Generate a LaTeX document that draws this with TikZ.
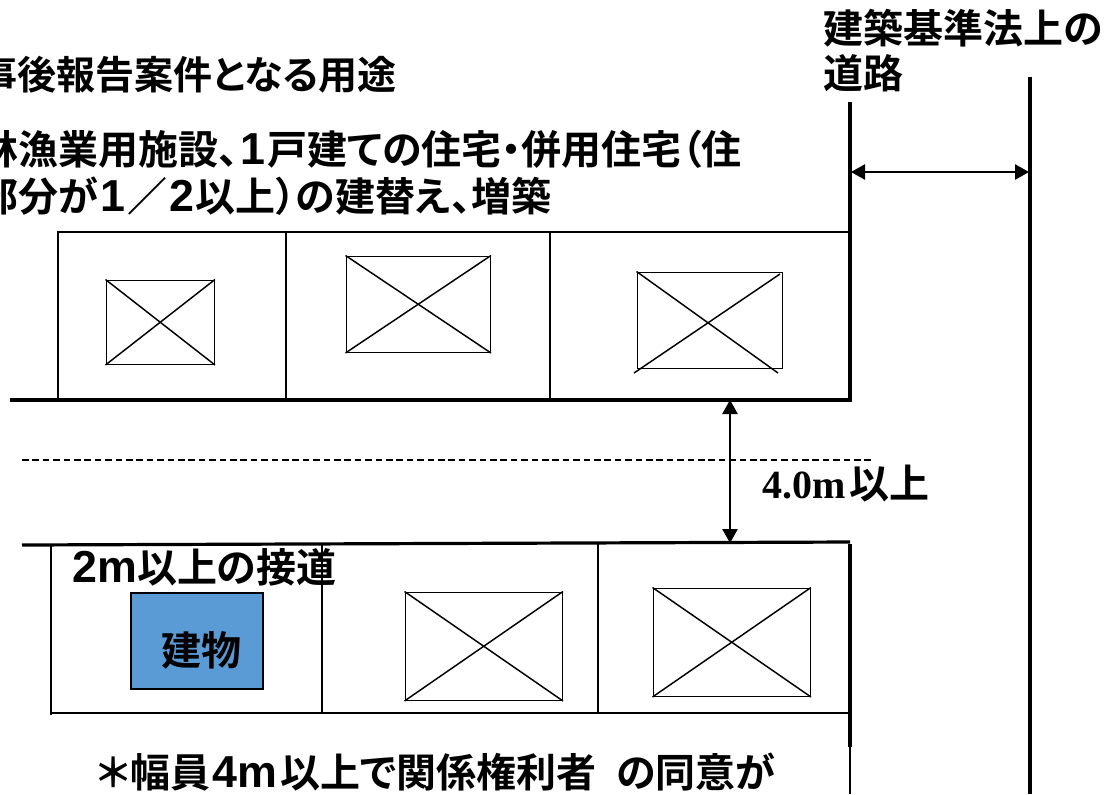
\documentclass[tikz,border=0pt]{standalone}
\usepackage{fontspec}
\setmainfont{Noto Sans CJK JP}[BoldFont={Noto Sans CJK JP Bold},RawFeature=+palt]
\newfontfamily\serifdigits{Liberation Serif}[BoldFont={Liberation Serif Bold}]
\newfontfamily\sansdigits{Liberation Sans}[BoldFont={Liberation Sans Bold},Scale=1.12]
\newcommand{\dg}[1]{{\sansdigits #1}}
\usetikzlibrary{arrows.meta}
\definecolor{roofblue}{HTML}{5B9BD5}
\tikzset{
  wall/.style={line width=2.4pt},
  lot/.style={line width=1.1pt},
  house/.style={draw, line width=1.1pt, inner sep=0pt, anchor=north west},
  span/.style={line width=1.1pt, {Triangle[length=10.5pt,width=11.5pt]}-{Triangle[length=10.5pt,width=11.5pt]}},
  label/.style={anchor=west, inner sep=0pt, font=\bfseries\fontsize{30}{30}\selectfont}
}
\begin{document}
\begin{tikzpicture}[x=0.75pt, y=-0.75pt]
    \useasboundingbox (0, 0) rectangle (1105, 794);

    % upper block
    \draw[lot] (58, 400) -- (58, 232) -- (850, 232);
    \foreach \x in {286, 550} {
      \draw[lot] (\x, 232) -- (\x, 400);
    }
    \coordinate (upperwall) at (10, 400);
    \coordinate (uppercorner) at (850, 400);
    \coordinate (uppertop) at (850, 102);
    \draw[wall] (upperwall) -- (uppercorner) -- (uppertop);

    % lower block
    \draw[lot] (51, 544) -- (51, 715);
    \draw[lot] (51, 713) -- (850, 713);
    \foreach \x in {322, 598} {
      \draw[lot] (\x, 544) -- (\x, 713);
    }
    \coordinate (lowerwall) at (22, 545);
    \coordinate (lowercorner) at (850, 542);
    \draw[wall] (lowerwall) -- (lowercorner);
    \draw[wall] (850, 544) -- (850, 747);
    \draw[lot] (850, 747) -- (850, 794);

    % far side of the road
    \coordinate (roadtop) at (1030, 77);
    \coordinate (roadend) at (1030, 794);
    \draw[wall] (roadtop) -- (roadend);

    % centre line
    \coordinate (dashfrom) at (22, 460);
    \coordinate (dashto) at (874, 460);
    \draw[line width=0.8pt, dash pattern=on 5pt off 2.8pt] (dashfrom) -- (dashto);

    % houses with a cross
    \foreach \name/\x/\y/\w/\h in {ha/105.5/279.5/108/84, hb/345.5/255.5/144/96, hc/636.5/271.5/145/96,
                                   hd/404.5/591.5/157/108, he/652.5/587.5/157/108} {
      \node[house, minimum width=0.75*\w, minimum height=0.75*\h] (\name) at (\x, \y) {};
    }
    \foreach \name in {ha, hb, hd, he} {
      \draw[lot] (\name.north west) -- (\name.south east);
      \draw[lot] (\name.south west) -- (\name.north east);
    }
    \coordinate (hcone) at (778, 373);
    \coordinate (hctwo) at (634, 373);
    \coordinate (hcthree) at (780, 274);
    \draw[lot] (hc.north west) -- (hcone);
    \draw[lot] (hctwo) -- (hcthree);

    % the building on the plot
    \node[house, fill=roofblue, line width=1.6pt, minimum width=99pt, minimum height=72pt] (building) at (129.7, 591.7) {};
    \node[label, anchor=center] (buildingtext) at (201, 650) {建物};

    % widths
    \coordinate (widthup) at (730, 400);
    \coordinate (widthdown) at (730, 543);
    \draw[span] (widthup) -- (widthdown);
    \coordinate (roadleft) at (851, 172);
    \coordinate (roadright) at (1029, 172);
    \draw[span] (roadleft) -- (roadright);

    % texts
    \node[label, font=\bfseries\fontsize{29.3}{30}\selectfont] (usehead) at (-22, 75) {事後報告案件となる用途};
    \node[label] (useone) at (-22, 149) {林漁業用施設、\hspace{2pt}\dg{1}\hspace{1pt}戸建ての住宅・併用住宅（住};
    \node[label] (usetwo) at (-22, 196) {部分が\hspace{2pt}\dg{1}\hspace{1pt}／\hspace{2pt}\dg{2}\hspace{1pt}以上）の建替え、増築};
    \node[label] (roadone) at (823, 28) {建築基準法上の};
    \node[label] (roadtwo) at (823, 73) {道路};
    \node[label] (gap) at (762, 484) {{\serifdigits 4.0m}\hspace{3pt}以上};
    \node[label] (access) at (72, 567) {\dg{2m}以上の接道};
    \node[label] (note) at (97, 772) {＊幅員\hspace{2pt}\dg{4m}\hspace{2pt}以上で関係権利者\hspace{0.5em}の同意が};
\end{tikzpicture}
\end{document}
